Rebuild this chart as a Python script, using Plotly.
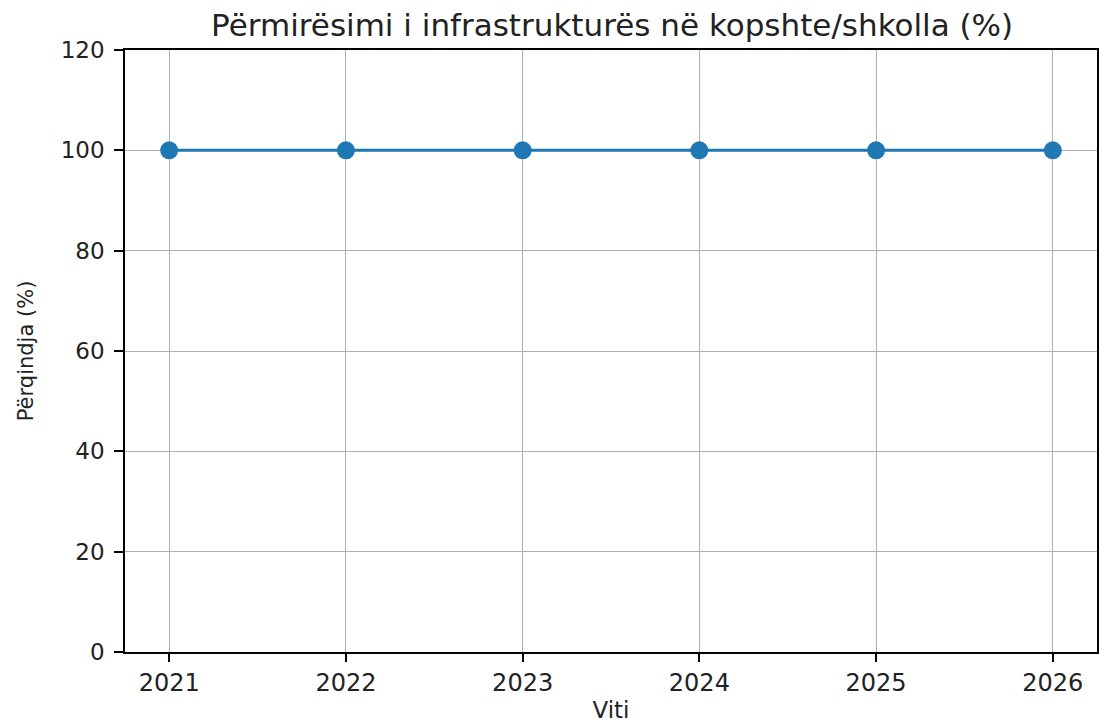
import plotly.graph_objects as go

years = [2021, 2022, 2023, 2024, 2025, 2026]
values = [100, 100, 100, 100, 100, 100]
y_ticks = [0, 20, 40, 60, 80, 100, 120]

title_text = "Përmirësimi i infrastrukturës në kopshte/shkolla (%)"
x_title = "Viti"
y_title = "Përqindja (%)"

font_family = "DejaVu Sans"
txt = "#222222"

fig = go.Figure()
fig.add_trace(go.Scatter(
    x=years, y=values, mode="lines+markers",
    line=dict(color="#1f77b4", width=3),
    marker=dict(color="#1f77b4", size=18),
    showlegend=False,
))

fig.update_layout(
    width=1099, height=726,
    margin=dict(l=125, r=2, t=50, b=74, autoexpand=False),
    paper_bgcolor="white", plot_bgcolor="white",
    font=dict(family=font_family, color=txt),
    title=dict(text=title_text, x=0.557, xanchor="center", y=0.965, yanchor="middle",
               font=dict(size=31, family=font_family, color=txt)),
)
fig.update_xaxes(
    range=[2020.75, 2026.25], tickvals=years, ticktext=[str(y) for y in years],
    automargin=False,
    showgrid=True, gridcolor="#b0b0b0", gridwidth=1,
    showline=True, linecolor="black", linewidth=1.5, mirror=True,
    ticks="outside", ticklen=8, tickwidth=1.5, tickcolor="black",
    tickfont=dict(size=24, family=font_family, color=txt),
    title=dict(text=x_title, font=dict(size=23, family=font_family, color=txt), standoff=6),
    zeroline=False,
)
fig.update_yaxes(
    range=[0, 120], tickvals=y_ticks,
    automargin=False,
    showgrid=True, gridcolor="#b0b0b0", gridwidth=1,
    showline=True, linecolor="black", linewidth=1.5, mirror=True,
    ticks="outside", ticklen=9, tickwidth=1.5, tickcolor="black",
    ticklabelstandoff=5,
    tickfont=dict(size=23, family=font_family, color=txt),
    title=dict(text=y_title, font=dict(size=21, family=font_family, color=txt), standoff=21),
    zeroline=False,
)

fig.write_html(
    "out.html",
    config={"displayModeBar": False},
    post_script="document.body.style.margin='0';document.body.style.overflow='hidden';",
)
